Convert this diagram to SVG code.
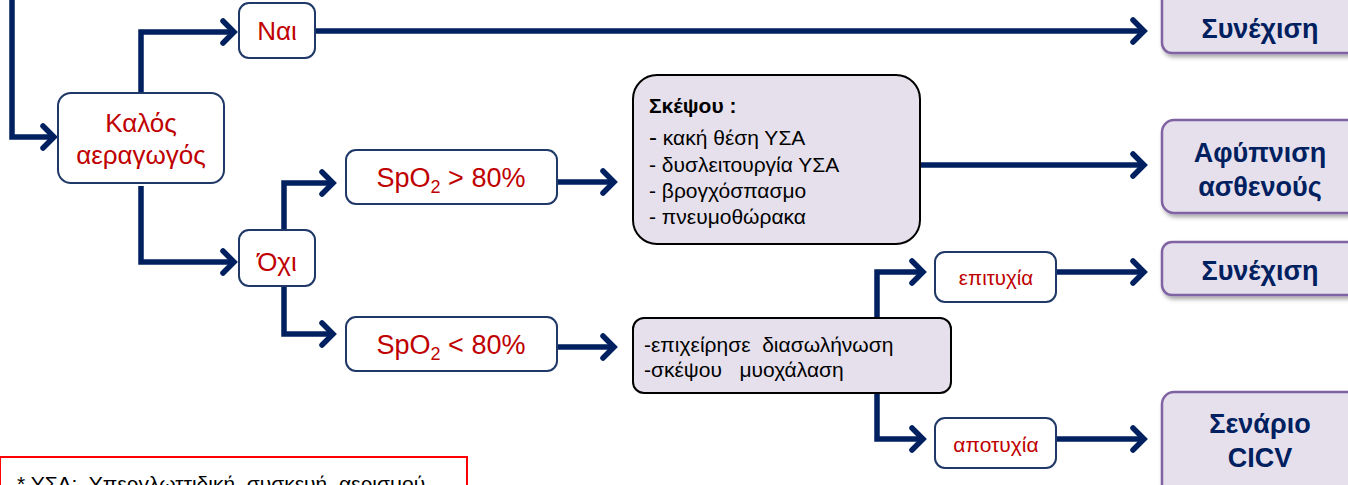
<svg xmlns="http://www.w3.org/2000/svg" width="1348" height="485" viewBox="0 0 1348 485">
<defs>
<style>
.q{fill:#fff;stroke:#1f3868;stroke-width:2}
.r{fill:#c00000;font-family:"Liberation Sans",Arial,sans-serif;text-anchor:middle}
.o{fill:#e6e0ec;stroke:#8064a2;stroke-width:2.5;filter:url(#sh)}
.ot{fill:#002060;font-family:"Liberation Sans",Arial,sans-serif;font-weight:bold;font-size:27px;text-anchor:middle}
.t{fill:#000;font-family:"Liberation Sans",Arial,sans-serif;font-size:21px;white-space:pre}
.n{fill:#e6e0ec;stroke:#000;stroke-width:2}
.c{fill:none;stroke:#002060;stroke-width:5.5;stroke-linejoin:miter}
</style>
<filter id="sh" x="-10%" y="-10%" width="130%" height="140%">
<feDropShadow dx="2" dy="3" stdDeviation="2" flood-color="#000" flood-opacity="0.35"/>
</filter>
<marker id="a" markerUnits="userSpaceOnUse" viewBox="-20 -16 26 32" markerWidth="26" markerHeight="32" refX="0" refY="0" orient="auto">
<path d="M-11,-11 L0,0 L-11,11" fill="none" stroke="#002060" stroke-width="5.5" stroke-linecap="round"/>
</marker>
</defs>
<g id="connectors" class="c" marker-end="url(#a)">
<path d="M12,0 V137 H54"/>
<path d="M141,93 V32 H234"/>
<path d="M315,31 H1144"/>
<path d="M141,186 V262 H234"/>
<path d="M284,230 V183 H333"/>
<path d="M284,286 V334 H333"/>
<path d="M557,182 H614"/>
<path d="M557,347 H614"/>
<path d="M920,165 H1144"/>
<path d="M877,318 V272 H923"/>
<path d="M877,393 V439 H923"/>
<path d="M1056,272 H1144"/>
<path d="M1056,439 H1144"/>
</g>
<g id="kalos">
<rect class="q" x="58" y="93" width="166" height="90" rx="13"/>
<text class="r" font-size="26" x="141" y="132">Καλός</text>
<text class="r" font-size="26" x="141" y="164">αεραγωγός</text>
</g>
<g id="nai">
<rect class="q" x="239" y="3" width="76" height="55" rx="10"/>
<text class="r" font-size="26" x="277" y="40">Ναι</text>
</g>
<g id="oxi">
<rect class="q" x="239" y="230" width="76" height="56" rx="10"/>
<text class="r" font-size="26" x="277" y="271">Όχι</text>
</g>
<g id="spo2high">
<rect class="q" x="346" y="150" width="211" height="54" rx="10"/>
<text class="r" font-size="27" x="451" y="187">SpO<tspan font-size="18" dy="6">2</tspan><tspan dy="-6"> &gt; 80%</tspan></text>
</g>
<g id="spo2low">
<rect class="q" x="346" y="317" width="211" height="54" rx="10"/>
<text class="r" font-size="27" x="451" y="354">SpO<tspan font-size="18" dy="6">2</tspan><tspan dy="-6"> &lt; 80%</tspan></text>
</g>
<g id="skepsou">
<rect class="n" x="633" y="75" width="287" height="169" rx="24"/>
<text class="t" x="649" y="113" font-weight="bold" font-size="23">Σκέψου :</text>
<text class="t" x="649" y="145"><tspan font-size="24">-</tspan> κακή θέση ΥΣΑ</text>
<text class="t" x="649" y="172">- δυσλειτουργία ΥΣΑ</text>
<text class="t" x="649" y="198">- βρογχόσπασμο</text>
<text class="t" x="649" y="224">- πνευμοθώρακα</text>
</g>
<g id="diasolinosi">
<rect class="n" x="633" y="318" width="318" height="75" rx="11"/>
<text class="t" x="644" y="352">-επιχείρησε&#160; διασωλήνωση</text>
<text class="t" x="644" y="377">-σκέψου&#160;  μυοχάλαση</text>
</g>
<g id="epitychia">
<rect class="q" x="935" y="252" width="121" height="50" rx="10"/>
<text class="r" font-size="20.5" x="996" y="285">επιτυχία</text>
</g>
<g id="apotychia">
<rect class="q" x="935" y="418" width="121" height="50" rx="10"/>
<text class="r" font-size="21" x="996" y="452">αποτυχία</text>
</g>
<g id="synexisi1">
<rect class="o" x="1162" y="-10" width="200" height="63" rx="10"/>
<text class="ot" x="1260" y="38">Συνέχιση</text>
</g>
<g id="afypnisi">
<rect class="o" x="1162" y="120" width="200" height="93" rx="12"/>
<text class="ot" x="1260" y="162">Αφύπνιση</text>
<text class="ot" x="1260" y="196">ασθενούς</text>
</g>
<g id="synexisi2">
<rect class="o" x="1162" y="242" width="200" height="53" rx="10"/>
<text class="ot" x="1260" y="280">Συνέχιση</text>
</g>
<g id="senario">
<rect class="o" x="1162" y="392" width="200" height="110" rx="12"/>
<text class="ot" x="1260" y="433">Σενάριο</text>
<text class="ot" x="1260" y="467">CICV</text>
</g>
<g id="footnote">
<rect x="0" y="457" width="467" height="40" fill="#fff" stroke="#ff0000" stroke-width="2"/>
<text class="t" x="17" y="491">* ΥΣΑ:&#160; Υπεργλωττιδική&#160; συσκευή&#160; αερισμού</text>
</g>
</svg>
